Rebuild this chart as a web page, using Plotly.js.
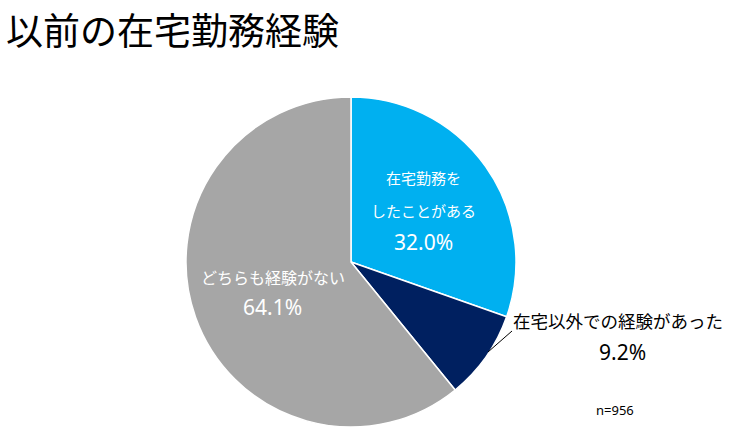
<!DOCTYPE html>
<html><head><meta charset="utf-8">
<script src="https://cdn.plot.ly/plotly-3.0.1.min.js"></script>
<style>html,body{margin:0;padding:0;background:#fff}</style>
</head><body>
<div id="chart" style="width:730px;height:432px"></div>
<script>
const categories = ["在宅勤務をしたことがある", "在宅以外での経験があった", "どちらも経験がない"];
const values = [32.0, 9.2, 64.1];
const colors = ["#00B0F0", "#002060", "#A6A6A6"];
const labelLinesBlue = ["在宅勤務を", "したことがある"];
const labelLinesNavy = ["在宅以外での経験があった"];
const labelLinesGray = ["どちらも経験がない"];
const sampleNote = "n=956";
const titleText = "以前の在宅勤務経験";

const W = 730, H = 432;
const px = x => x / W, py = y => 1 - y / H;
const font = "Noto Sans CJK JP, Noto Sans, sans-serif";
const numFont = "Noto Sans, sans-serif";
const pct = v => v.toFixed(1) + "%";

const ann = [];
function add(text, x, y, size, color, fam) {
  ann.push({text: text, x: px(x), y: py(y), xref: "paper", yref: "paper",
    showarrow: false, xanchor: "center", yanchor: "middle",
    font: {family: fam || font, size: size, color: color}});
}
// chart title (kept fully inside the page)
ann.push({text: titleText, x: px(4), y: 1, xref: "paper", yref: "paper",
  showarrow: false, xanchor: "left", yanchor: "top",
  font: {family: font, size: 37, color: "#000"}});
// blue slice
add(labelLinesBlue[0], 423, 178, 15, "#fff");
add(labelLinesBlue[1], 423, 210, 15, "#fff");
add(pct(values[0]), 423, 242, 21, "#fff", numFont);
// gray slice
add(labelLinesGray[0], 273, 277, 16, "#fff");
add(pct(values[2]), 272, 307, 21, "#fff", numFont);
// navy label outside
add(labelLinesNavy[0], 618, 320, 17.5, "#000");
add(pct(values[1]), 622, 352, 21, "#000", numFont);
add(sampleNote, 615, 410, 13, "#000", numFont);

const shapes = [{type: "line", xref: "paper", yref: "paper",
  x0: px(488), y0: py(352), x1: px(512), y1: py(331),
  line: {color: "#000", width: 1}}];

const r = 165, cx = 351, cy = 262;
Plotly.newPlot("chart", [{
  type: "pie",
  labels: categories,
  values: values,
  sort: false,
  direction: "clockwise",
  rotation: 0,
  textinfo: "none",
  hoverinfo: "label+value",
  marker: {colors: colors, line: {color: "#fff", width: 1.5}},
  domain: {x: [px(cx - r), px(cx + r)], y: [py(cy + r), py(cy - r)]}
}], {
  width: W, height: H,
  margin: {l: 0, r: 0, t: 0, b: 0},
  showlegend: false,
  paper_bgcolor: "#fff",
  annotations: ann,
  shapes: shapes
}, {displayModeBar: false, staticPlot: true});
</script>
</body></html>
